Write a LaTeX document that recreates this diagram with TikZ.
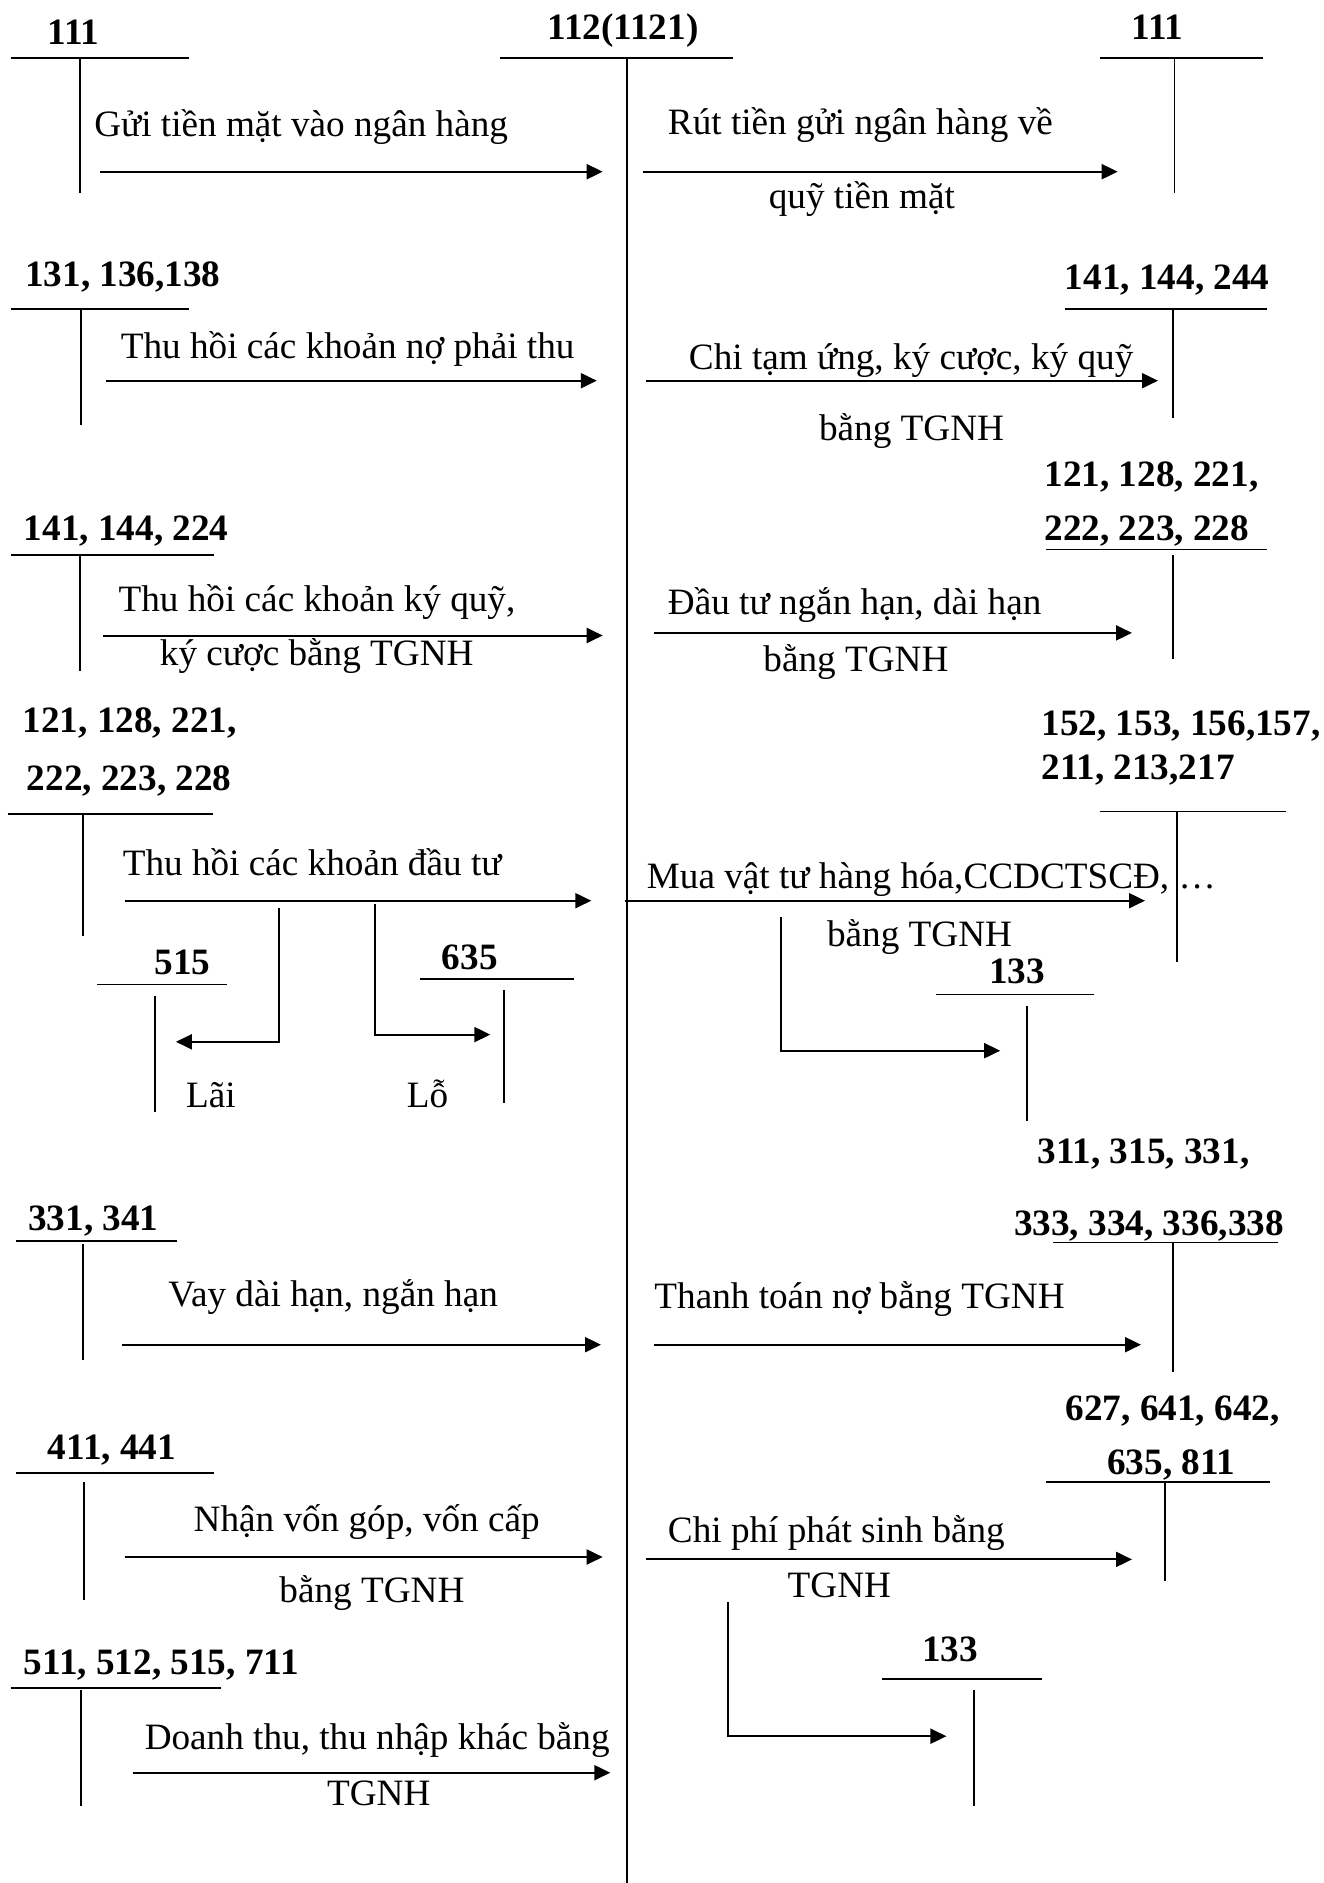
\documentclass[tikz,border=0pt]{standalone}
\usepackage{fontspec}
\setmainfont{Liberation Serif}
\usetikzlibrary{arrows.meta}

\begin{document}
\begin{tikzpicture}[
    x=0.5pt, y=-0.5pt,
    line width=0.85pt,
    >={Triangle[length=8pt,width=7.5pt]},
    flow/.style={->, line width=1pt},
    every node/.style={inner sep=0pt, anchor=base west},
    txt/.style={font=\fontsize{18.6}{22}\selectfont},
    acct/.style={font=\fontsize{18.6}{22}\selectfont\bfseries}
  ]
  \useasboundingbox (0,0) rectangle (1323,1883);

  % T accounts
  \node[acct] (t111a) at (47,45) {111};
  \draw (10.5,57.7) -- (188.6,57.7) (80,57.7) -- (80,192.7);
  \node[acct] (t112) at (546.7,40) {112(1121)};
  \draw (500,58.3) -- (732.7,58.3) (627,58.3) -- (627,1883);
  \node[acct] (t111b) at (1131,40) {111};
  \draw (1099.7,58.3) -- (1263.4,58.3) (1174.6,58.3) -- (1174.6,192.7);

  \node[acct] (t131) at (24.4,286.7) {131, 136,138};
  \draw (10.5,309.3) -- (188.6,309.3) (80.8,309.3) -- (80.8,425);
  \node[acct] (t141b) at (1064,289.3) {141, 144, 244};
  \draw (1065,309.3) -- (1266.5,309.3) (1172.8,309.3) -- (1172.8,418.3);

  \node[acct] (t141a) at (23.1,540.4) {141, 144, 224};
  \draw (10.5,555.2) -- (213.8,555.2) (80,555.2) -- (80,671.3);
  \node[acct] (t121b) at (1043.7,486.9) {121, 128, 221,};
  \node[acct] (t121b2) at (1043.7,540.4) {222, 223, 228};
  \draw (1045.9,549.4) -- (1266.5,549.4) (1172.8,555.2) -- (1172.8,658.8);

  \node[acct] (t121a) at (21.9,732.4) {121, 128, 221,};
  \node[acct] (t121a2) at (26.1,790.4) {222, 223, 228};
  \draw (7.6,814.1) -- (212.5,814.1) (82.9,814.1) -- (82.9,935.5);
  \node[acct] (t152) at (1040.6,735.5) {152, 153, 156,157,};
  \node[acct] (t152b) at (1040.6,779.3) {211, 213,217};
  \draw (1099.7,811.4) -- (1285.8,811.4) (1176.9,811.4) -- (1176.9,962.3);

  \node[acct] (t515) at (153.6,974.8) {515};
  \draw (96.8,984.6) -- (227.3,984.6) (155.3,995.8) -- (155.3,1111.9);
  \node[acct] (t635) at (441.1,969) {635};
  \draw (420,979.3) -- (573.6,979.3) (504.2,990) -- (504.2,1103);
  \node[acct] (t133a) at (988.5,983.8) {133};
  \draw (936.1,994.5) -- (1094.4,994.5) (1027.1,1006) -- (1027.1,1120.8);

  \node[acct] (t311) at (1036.7,1163.3) {311, 315, 331,};
  \node[acct] (t311b) at (1013.3,1235) {333, 334, 336,338};
  \draw (1053.3,1242.5) -- (1278.3,1242.5) (1172.7,1242.5) -- (1172.7,1372.2);
  \node[acct] (t331) at (27.4,1230) {331, 341};
  \draw (16,1241) -- (176.8,1241) (82.9,1244.3) -- (82.9,1360.4);

  \node[acct] (t627) at (1064.8,1420.6) {627, 641, 642,};
  \node[acct] (t627b) at (1106.5,1474.1) {635, 811};
  \draw (1045.9,1482.2) -- (1270.1,1482.2) (1164.7,1482.2) -- (1164.7,1580.8);
  \node[acct] (t411) at (47.1,1459.9) {411, 441};
  \draw (16,1472.7) -- (213.8,1472.7) (84.2,1482.2) -- (84.2,1599.7);

  \node[acct] (t133b) at (921.3,1661.3) {133};
  \draw (882.3,1679.3) -- (1041.5,1679.3) (974.2,1689.8) -- (974.2,1805.9);
  \node[acct] (t511) at (23.1,1674.6) {511, 512, 515, 711};
  \draw (10.5,1688.3) -- (221,1688.3) (80.8,1689.8) -- (80.8,1805.9);

  % arrow ends
  \coordinate (gui-s) at (100,171.7);      \coordinate (gui-e) at (602.7,171.7);
  \coordinate (rut-s) at (643.3,171.7);    \coordinate (rut-e) at (1117.7,171.7);
  \coordinate (thuno-s) at (106,380.7);    \coordinate (thuno-e) at (596.8,380.7);
  \coordinate (chitu-s) at (646,380.7);    \coordinate (chitu-e) at (1158,380.7);
  \coordinate (thukq-s) at (103.1,635.5);  \coordinate (thukq-e) at (602.7,635.5);
  \coordinate (dautu-s) at (653.6,632.9);  \coordinate (dautu-e) at (1132,632.9);
  \coordinate (thudt-s) at (125.4,900.7);  \coordinate (thudt-e) at (591.3,900.7);
  \coordinate (lai-s) at (278.6,907.9);    \coordinate (lai-e) at (175.9,1041.8);
  \coordinate (lo-s) at (374.6,904.3);     \coordinate (lo-e) at (490.3,1034.6);
  \coordinate (mua-s) at (624.5,900.7);    \coordinate (mua-e) at (1145,900.7);
  \coordinate (thue-s) at (780.5,916.8);   \coordinate (thue-e) at (1000.2,1050.7);
  \coordinate (vay-s) at (122,1344.7);     \coordinate (vay-e) at (601,1344.7);
  \coordinate (tra-s) at (653.6,1344.7);   \coordinate (tra-e) at (1141,1344.7);
  \coordinate (von-s) at (124.6,1557);     \coordinate (von-e) at (602.7,1557);
  \coordinate (chi-s) at (646,1559.4);     \coordinate (chi-e) at (1132,1559.4);
  \coordinate (vat-s) at (727.6,1602);     \coordinate (vat-e) at (946.4,1736.2);
  \coordinate (dt-s) at (132.6,1772.7);    \coordinate (dt-e) at (610.3,1772.7);

  \draw[flow] (gui-s) -- (gui-e);
  \draw[flow] (rut-s) -- (rut-e);
  \draw[flow] (thuno-s) -- (thuno-e);
  \draw[flow] (chitu-s) -- (chitu-e);
  \draw[flow] (thukq-s) -- (thukq-e);
  \draw[flow] (dautu-s) -- (dautu-e);
  \draw[flow] (thudt-s) -- (thudt-e);
  \draw[flow] (lai-s) |- (lai-e);
  \draw[flow] (lo-s) |- (lo-e);
  \draw[flow] (mua-s) -- (mua-e);
  \draw[flow] (thue-s) |- (thue-e);
  \draw[flow] (vay-s) -- (vay-e);
  \draw[flow] (tra-s) -- (tra-e);
  \draw[flow] (von-s) -- (von-e);
  \draw[flow] (chi-s) -- (chi-e);
  \draw[flow] (vat-s) |- (vat-e);
  \draw[flow] (dt-s) -- (dt-e);

  % labels
  \node[txt] (gui) at (93.4,136.7) {Gửi tiền mặt vào ngân hàng};
  \node[txt] (rut) at (667.1,135) {Rút tiền gửi ngân hàng về};
  \node[txt] (rut2) at (768,208.3) {quỹ tiền mặt};
  \node[txt] (thuno) at (120,358.3) {Thu hồi các khoản nợ phải thu};
  \node[txt] (chitu) at (688.1,370) {Chi tạm ứng, ký cược, ký quỹ};
  \node[txt] (chitu2) at (818.2,440) {bằng TGNH};
  \node[txt] (thukq) at (117.8,611.9) {Thu hồi các khoản ký quỹ,};
  \node[txt] (thukq2) at (159.1,665.4) {ký cược bằng TGNH};
  \node[txt] (dautu) at (667.1,614.1) {Đầu tư ngắn hạn, dài hạn};
  \node[txt] (dautu2) at (762.6,671.3) {bằng TGNH};
  \node[txt] (thudt) at (122,875.3) {Thu hồi các khoản đầu tư};
  \node[txt] (lai) at (185.2,1107.4) {Lãi};
  \node[txt] (lo) at (406.1,1107.4) {Lỗ};
  \node[txt] (mua) at (646,888.7) {Mua vật tư hàng hóa,CCDCTSCĐ, …};
  \node[txt] (mua2) at (826.2,946.7) {bằng TGNH};
  \node[txt] (vay) at (167.5,1306.8) {Vay dài hạn, ngắn hạn};
  \node[txt] (tra) at (653.6,1308.2) {Thanh toán nợ bằng TGNH};
  \node[txt] (von) at (192.8,1531) {Nhận vốn góp, vốn cấp};
  \node[txt] (von2) at (278.6,1602) {bằng TGNH};
  \node[txt] (chi) at (667.1,1542.8) {Chi phí phát sinh bằng};
  \node[txt] (chi2) at (786.8,1597.3) {TGNH};
  \node[txt] (dt) at (143.9,1749) {Doanh thu, thu nhập khác bằng};
  \node[txt] (dt2) at (326.2,1805.9) {TGNH};
\end{tikzpicture}
\end{document}
